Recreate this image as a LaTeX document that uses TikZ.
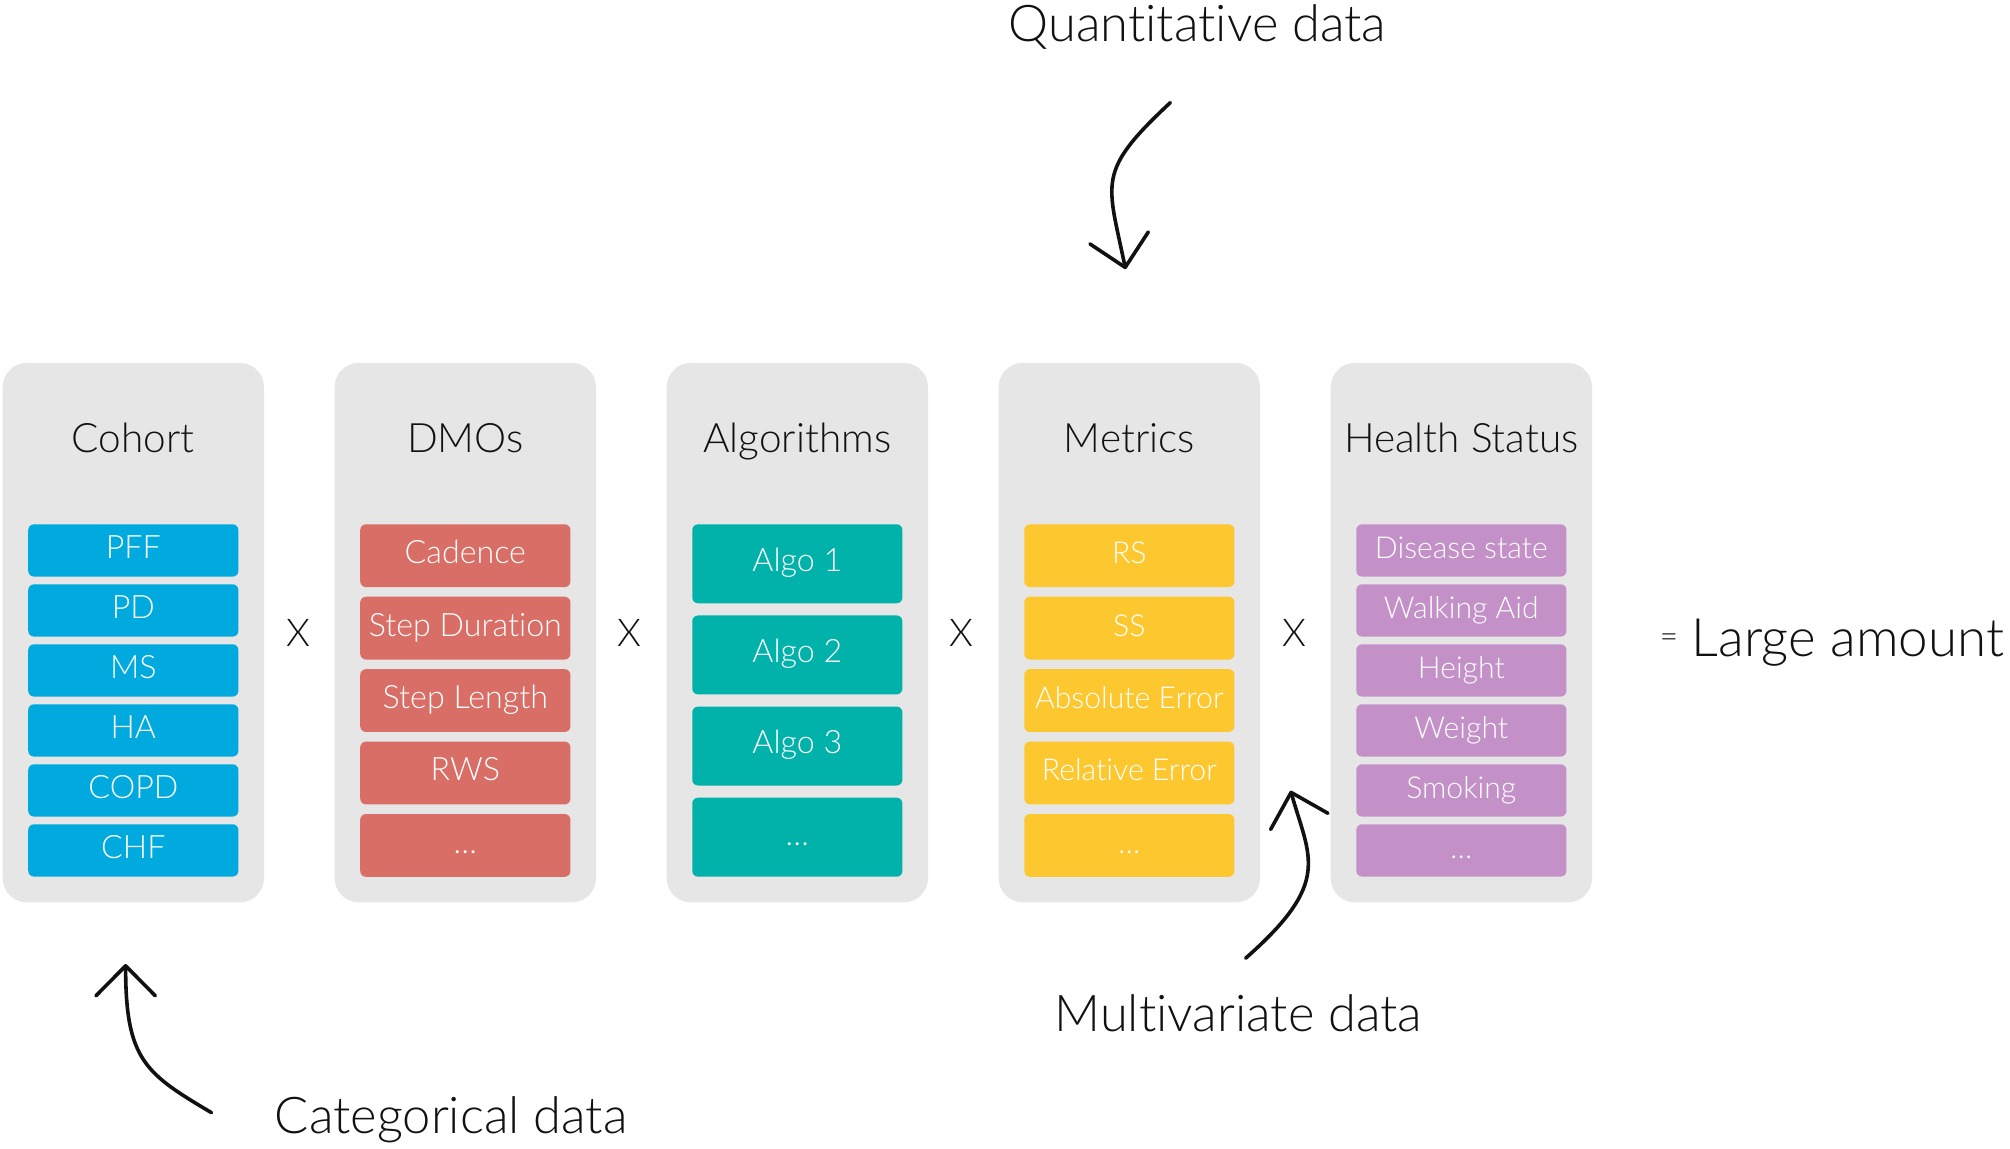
\documentclass[tikz,border=0pt]{standalone}
\usepackage{fontspec}
\setmainfont{Lato Light}[Ligatures=NoCommon]
\usetikzlibrary{arrows.meta}
\definecolor{panelgray}{HTML}{E6E6E6}
\definecolor{cohortblue}{HTML}{00AADF}
\definecolor{dmosalmon}{HTML}{D86E65}
\definecolor{algoteal}{HTML}{00B2A9}
\definecolor{metricyellow}{HTML}{FDC82F}
\definecolor{healthpurple}{HTML}{C391C8}
\definecolor{inkblack}{HTML}{111111}
\begin{document}
\begin{tikzpicture}[x=0.02cm, y=-0.02cm,
  panel/.style={fill=panelgray, rounded corners=0.38cm, minimum width=4.08cm,
    minimum height=8.42cm, inner sep=0pt},
  title/.style={font=\fontsize{18}{20}\selectfont, text=inkblack,
    text height=1.41ex, text depth=0pt, inner sep=0pt},
  item/.style={rounded corners=0.09cm, minimum width=3.28cm, inner sep=0pt,
    text=white, font=\fontsize{14.3}{16}\selectfont, text height=1.41ex, text depth=0pt},
  smallitem/.style={item, font=\fontsize{13.4}{16}\selectfont},
  times/.style={font=\fontsize{17}{18}\selectfont, text=inkblack,
    text height=1.41ex, text depth=0pt, inner sep=0pt},
  note/.style={font=\fontsize{22.5}{26}\selectfont, text=inkblack, inner sep=0pt, anchor=base},
  barb/.style={line width=1.6pt, line cap=round, draw=inkblack,
    -{Straight Barb[length=0.47cm, width=0.93cm, round]}}
]
\useasboundingbox (0,0) rectangle (1568,896);

% grey columns
\node[panel] (cohort)  at (104,493.5) {};
\node[panel] (dmos)    at (363,493.5) {};
\node[panel] (algos)   at (622,493.5) {};
\node[panel] (metrics) at (881,493.5) {};
\node[panel] (health)  at (1140,493.5) {};

% column titles
\node[title] (cohort-t)  at (104,347)  {Cohort};
\node[title] (dmos-t)    at (363,347)  {DMOs};
\node[title] (algos-t)   at (622,347)  {Algorithms};
\node[title] (metrics-t) at (881,347)  {Metrics};
\node[title] (health-t)  at (1140,347) {Health Status};

% coloured entries
\foreach \t [count=\i] in {PFF,PD,MS,HA,COPD,CHF}
  \node[item, fill=cohortblue, minimum height=0.816cm] (cohort-\i)
    at (104,{429.4+(\i-1)*46.8}) {\t};
\foreach \t [count=\i] in {Cadence,Step Duration,Step Length,RWS,{\ldots}}
  \node[item, fill=dmosalmon, minimum height=0.98cm] (dmos-\i)
    at (363,{433.5+(\i-1)*56.5}) {\t};
\foreach \t [count=\i] in {Algo 1,Algo 2,Algo 3,{\ldots}}
  \node[item, fill=algoteal, minimum height=1.232cm] (algos-\i)
    at (622,{439.8+(\i-1)*71.1}) {\t};
\foreach \t [count=\i] in {RS,SS,Absolute Error,Relative Error,{\ldots}}
  \node[smallitem, fill=metricyellow, minimum height=0.98cm] (metrics-\i)
    at (881,{433.5+(\i-1)*56.5}) {\t};
\foreach \t [count=\i] in {Disease state,Walking Aid,Height,Weight,Smoking,{\ldots}}
  \node[smallitem, fill=healthpurple, minimum height=0.816cm] (health-\i)
    at (1140,{429.4+(\i-1)*46.8}) {\t};

% product signs and result
\node[times] (x1) at (233,498) {X};
\node[times] (x2) at (491,498) {X};
\node[times] (x3) at (750,498) {X};
\node[times] (x4) at (1010,498) {X};
\node[font=\fontsize{14}{14}\selectfont, text=inkblack, inner sep=0pt] (eq) at (1302,500) {=};
\node[note, font=\fontsize{23.5}{26}\selectfont] (large) at (1441.5,512) {Large amount};

% annotations
\node[note] (quant) at (934,32.5) {Quantitative data};
\node[note] (categ) at (352,884) {Categorical data};
\node[note] (multi) at (966,805) {Multivariate data};

\coordinate (qstart) at (913,80);
\coordinate (qtip)   at (878,210);
\coordinate (cstart) at (165,868);
\coordinate (ctip)   at (98,752);
\coordinate (mstart) at (971.7,747.5);
\coordinate (mtip)   at (1006.8,616.8);

\draw[barb] (qstart) .. controls (854.6,134.4) and (864,141.4) .. (qtip);
\draw[barb] (cstart) .. controls (113.4,837.4) and (98,827) .. (ctip);
\draw[barb] (mstart) .. controls (1039.2,688.1) and (1021.7,669.6) .. (mtip);
\end{tikzpicture}
\end{document}
